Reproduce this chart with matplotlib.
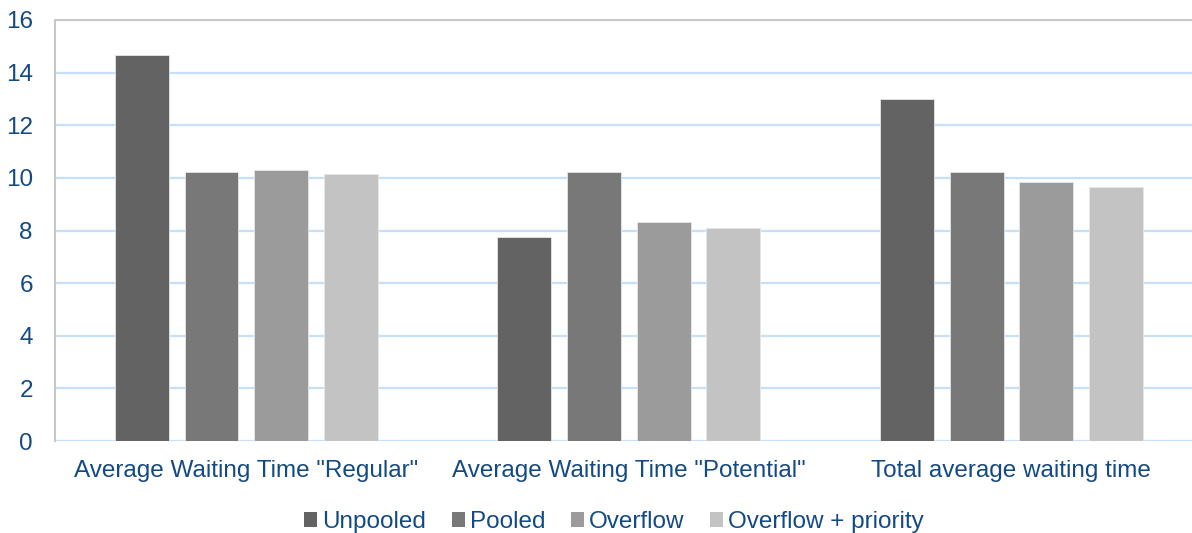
import matplotlib
matplotlib.use("Agg")
import matplotlib.pyplot as plt
from matplotlib.patches import Patch
import numpy as np

categories = ['Average Waiting Time "Regular"',
              'Average Waiting Time "Potential"',
              'Total average waiting time']
series_names = ["Unpooled", "Pooled", "Overflow", "Overflow + priority"]
unpooled = [14.67, 7.75, 12.98]
pooled = [10.23, 10.23, 10.23]
overflow = [10.30, 8.33, 9.85]
overflow_priority = [10.15, 8.10, 9.67]
y_ticks = [0, 2, 4, 6, 8, 10, 12, 14, 16]

colors = ["#636363", "#787878", "#9b9b9b", "#c3c3c3"]
text_color = "#144a84"
grid_color = "#c5e0f8"

plt.rcParams["font.family"] = ["Liberation Sans", "DejaVu Sans"]

W, H, DPI = 1192, 533, 100
fig = plt.figure(figsize=(W / DPI, H / DPI), dpi=DPI)
left, right, top, bottom = 55, 1192, 20, 441
ax = fig.add_axes([left / W, 1 - bottom / H, (right - left) / W, (bottom - top) / H])

x = np.arange(len(categories))
pitch = 0.182
width = 0.141
all_series = [unpooled, pooled, overflow, overflow_priority]
for i, (vals, c) in enumerate(zip(all_series, colors)):
    offs = (i - 1.5) * pitch
    ax.bar(x + offs, vals, width=width, color=c, edgecolor="#e6e6e6",
           linewidth=0.6, zorder=3)

ax.set_ylim(0, 16)
ax.set_xlim(-0.5, 2.472)
ax.set_yticks(y_ticks)
ax.set_yticklabels([str(t) for t in y_ticks])
ax.set_xticks(x)
ax.set_xticklabels(categories)
ax.tick_params(axis="both", length=0, colors=text_color, labelsize=17.5)
ax.tick_params(axis="y", pad=16)
ax.tick_params(axis="x", pad=14)

ax.yaxis.grid(True, color=grid_color, linewidth=1.6, zorder=0)
ax.set_axisbelow(True)
for s in ["right", "bottom"]:
    ax.spines[s].set_visible(False)
for s in ["left", "top"]:
    ax.spines[s].set_color("#c8c8c8")
    ax.spines[s].set_linewidth(1.5)

handles = [Patch(facecolor=c, edgecolor="none") for c in colors]
leg = fig.legend(handles, series_names, loc="center", bbox_to_anchor=(614 / W, 1 - 522 / H),
                 ncol=4, frameon=False, fontsize=17.5, handlelength=0.55, handleheight=0.55,
                 handletextpad=0.2, columnspacing=1.05)
for t in leg.get_texts():
    t.set_color(text_color)

fig.savefig("out.png", dpi=DPI)
